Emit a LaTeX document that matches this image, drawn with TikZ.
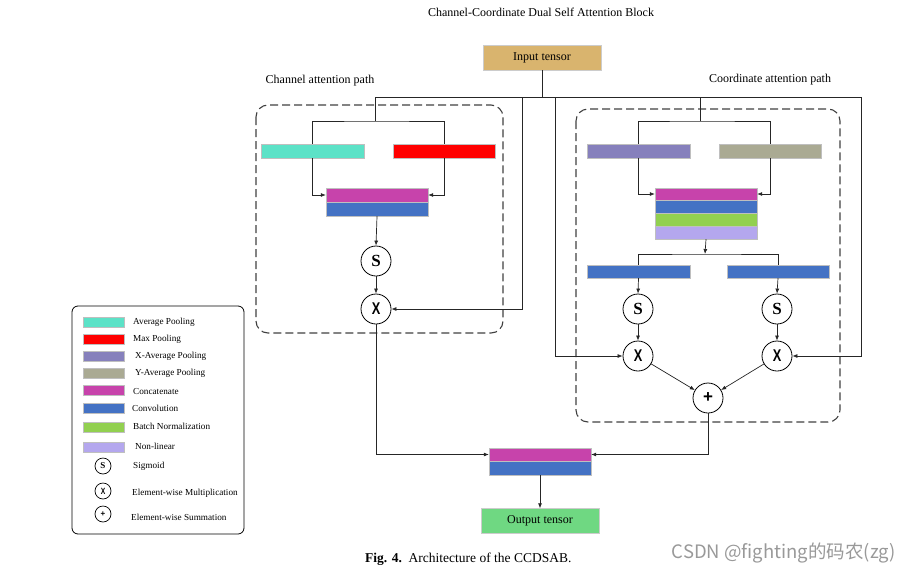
\documentclass[tikz,border=0pt]{standalone}
\usepackage{fontspec}
\setmainfont{Liberation Serif}
\newfontfamily\sansf{Liberation Sans}
\newfontfamily\cjk{Noto Sans CJK SC}
\usetikzlibrary{arrows.meta}
\definecolor{tanc}{HTML}{D9B46E}
\definecolor{outc}{HTML}{6FD882}
\definecolor{tealc}{HTML}{5CE2C7}
\definecolor{redc}{HTML}{FF0000}
\definecolor{xavgc}{HTML}{8680BC}
\definecolor{yavgc}{HTML}{AAAA93}
\definecolor{magc}{HTML}{C743AB}
\definecolor{bluec}{HTML}{4472C4}
\definecolor{greenc}{HTML}{92D050}
\definecolor{lavc}{HTML}{B4A7EE}
\begin{document}
\begin{tikzpicture}[x=1pt,y=-1pt,
  bar/.style={rectangle, minimum width=102pt, minimum height=14pt, inner sep=0pt, draw=black!25, line width=0.4pt},
  op/.style={circle, draw=black, line width=0.8pt, minimum size=30pt, inner sep=0pt},
  lop/.style={circle, draw=black, line width=0.7pt, minimum size=16pt, inner sep=0pt},
  sw/.style={rectangle, minimum width=41pt, minimum height=10pt, inner sep=0pt, draw=black!25, line width=0.4pt},
  lt/.style={anchor=west, inner sep=0pt, font=\fontsize{9.2}{11}\selectfont},
  lab/.style={inner sep=0pt, font=\fontsize{12}{14}\selectfont},
  ln/.style={line width=0.7pt, draw=black!85},
  arr/.style={ln, -{Latex[length=5pt,width=4pt]}},
  dbox/.style={dashed, dash pattern=on 8pt off 4pt, line width=1.1pt, draw=black!75, rounded corners=12pt},
  Sfont/.style={font=\fontsize{17}{17}\selectfont\bfseries},
  Xfont/.style={font=\sansf\fontsize{17}{17}\selectfont\bfseries},
]
\useasboundingbox (0,0) rectangle (907,573);

% title and labels
\node[lab] (title) at (541,12) {Channel-Coordinate Dual Self Attention Block};
\node[lab] (clab) at (320,81) {Channel attention path};
\node[lab] (rlab) at (770,80) {Coordinate attention path};

% input
\node[rectangle, minimum width=118pt, minimum height=25pt, fill=tanc, draw=black!20, line width=0.4pt, font=\fontsize{12}{14}\selectfont] (in) at (542,57.5) {Input tensor};

% dashed boxes
\draw[dbox] (256,105) rectangle (503,333);
\draw[dbox] (576,109) rectangle (840,422);

% channel path
\node[bar, fill=tealc, minimum width=103pt] (avgp) at (312.5,151) {};
\node[bar, fill=redc] (maxp) at (444,151) {};
\node[bar, fill=magc] (cat1) at (377,195) {};
\node[bar, fill=bluec] (conv1) at (377,209) {};
\node[op, Sfont] (s1) at (376,261) {S};
\node[op, Xfont] (x1) at (376,309) {\scalebox{0.75}[1]{X}};

% coordinate path
\node[bar, fill=xavgc, minimum width=103pt] (xavg) at (638.5,151) {};
\node[bar, fill=yavgc] (yavg) at (770,151) {};
\node[bar, fill=magc, minimum height=12pt] (cat2) at (706,194) {};
\node[bar, fill=bluec, minimum height=13pt] (conv2) at (706,206.5) {};
\node[bar, fill=greenc, minimum height=13pt] (bn) at (706,219.5) {};
\node[bar, fill=lavc, minimum height=13pt] (nl) at (706,232.5) {};
\node[bar, fill=bluec, minimum width=103pt, minimum height=13pt] (conv3) at (638.5,271.5) {};
\node[bar, fill=bluec, minimum height=13pt] (conv4) at (778,271.5) {};
\node[op, Sfont] (s2) at (638,309) {S};
\node[op, Sfont] (s3) at (777,309) {S};
\node[op, Xfont] (x2) at (638,356) {\scalebox{0.75}[1]{X}};
\node[op, Xfont] (x3) at (777,356) {\scalebox{0.75}[1]{X}};
\node[op, Xfont] (plus) at (708,398) {+};

% output
\node[bar, fill=magc, minimum height=13pt] (cat3) at (540,454.5) {};
\node[bar, fill=bluec] (conv5) at (540,468) {};
\node[rectangle, minimum width=118pt, minimum height=25pt, fill=outc, draw=black!20, line width=0.4pt, font=\fontsize{12}{14}\selectfont] (out) at (540,521) {Output tensor};

% junction coordinates
\coordinate (jl) at (375,97);
\coordinate (jr) at (861,97);
\coordinate (b1) at (522,97);
\coordinate (b2) at (555,97);
\coordinate (bl) at (375,121);
\coordinate (jc) at (700,97);
\coordinate (bc) at (700,121);
\coordinate (h) at (705,254);

% connectors
\draw[ln] (in.south) -- (in.south |- jl);
\draw[ln] (jl) -- (jr);
\draw[ln] (jl) -- (bl);
\draw[ln] (avgp.north) |- (bl) -| (maxp.north);
\draw[arr] (avgp.south) |- (cat1.west);
\draw[arr] (maxp.south) |- (cat1.east);
\draw[arr] (conv1.south) -- (s1.north);
\draw[arr] (s1.south) -- (x1.north);
\draw[arr] (b1) |- (x1.east);
\draw[arr] (b2) |- (x2.west);
\draw[arr] (jr) |- (x3.east);

\draw[ln] (jc) -- (bc);
\draw[ln] (xavg.north) |- (bc) -| (yavg.north);
\draw[arr] (xavg.south) |- (cat2.west);
\draw[arr] (yavg.south) |- (cat2.east);
\draw[arr] (nl.south) -- (h);
\draw[ln] (conv3.north) |- (h) -| (conv4.north);
\draw[arr] (conv3.south) -- (s2.north);
\draw[arr] (conv4.south) -- (s3.north);
\draw[arr] (s2.south) -- (x2.north);
\draw[arr] (s3.south) -- (x3.north);
\draw[arr] (x2) -- (plus);
\draw[arr] (x3) -- (plus);

\draw[arr] (x1.south) |- (cat3.west);
\draw[arr] (plus.south) |- (cat3.east);
\draw[arr] (conv5.south) -- (out.north);

% legend
\draw[line width=0.8pt, rounded corners=6pt] (72,306) rectangle (244,534);
\node[sw, fill=tealc] (lg1) at (103.5,322) {};
\node[sw, fill=redc] (lg2) at (103.5,339) {};
\node[sw, fill=xavgc] (lg3) at (103.5,356) {};
\node[sw, fill=yavgc] (lg4) at (103.5,373) {};
\node[sw, fill=magc] (lg5) at (103.5,390) {};
\node[sw, fill=bluec] (lg6) at (103.5,408) {};
\node[sw, fill=greenc] (lg7) at (103.5,427) {};
\node[sw, fill=lavc] (lg8) at (103.5,447) {};
\node[lop, font=\fontsize{9}{9}\selectfont\bfseries] (lc1) at (103,466) {S};
\node[lop, font=\sansf\fontsize{9}{9}\selectfont\bfseries] (lc2) at (103,491) {\scalebox{0.75}[1]{X}};
\node[lop, font=\sansf\fontsize{8}{8}\selectfont\bfseries] (lc3) at (103,514) {+};
\node[lt] (lt1) at (133,322) {Average Pooling};
\node[lt] (lt2) at (133,339) {Max Pooling};
\node[lt] (lt3) at (135,356) {X-Average Pooling};
\node[lt] (lt4) at (135,373) {Y-Average Pooling};
\node[lt] (lt5) at (133,391) {Concatenate};
\node[lt] (lt6) at (132,408) {Convolution};
\node[lt] (lt7) at (133,426) {Batch Normalization};
\node[lt] (lt8) at (135,446) {Non-linear};
\node[lt] (lt9) at (133,466) {Sigmoid};
\node[lt] (lt10) at (132,493) {Element-wise Multiplication};
\node[lt] (lt11) at (131,517) {Element-wise Summation};

% caption and watermark
\node[anchor=west, inner sep=0pt, font=\fontsize{13.5}{15}\selectfont] (cap) at (365,559) {\textbf{Fig. 4.}\ \ Architecture of the CCDSAB.};
\node[anchor=east, inner sep=0pt, text=black!40, font=\cjk\fontsize{18.5}{20}\selectfont] (wm) at (896,553) {CSDN @fighting的码农(zg)};
\end{tikzpicture}
\end{document}
